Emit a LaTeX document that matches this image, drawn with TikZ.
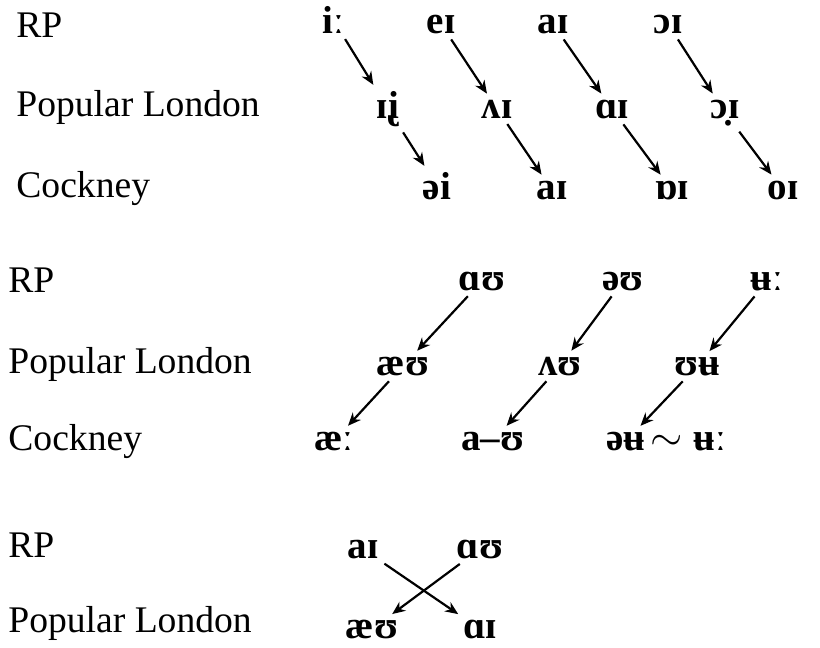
\documentclass[tikz,border=0pt]{standalone}
\usepackage{fontspec}
\setmainfont{Liberation Serif}
\usetikzlibrary{arrows.meta}

\begin{document}
\begin{tikzpicture}[
    x=0.5pt,
    y=-0.5pt,
    >={Stealth[length=6.5pt, width=5.5pt]},
    lbl/.style={anchor=base west, inner sep=0pt, font=\fontsize{18.8}{21}\selectfont},
    ipa/.style={anchor=base, inner sep=2pt, font=\fontsize{19.5}{21}\selectfont\bfseries},
    arr/.style={->, line width=1.1pt, shorten >=1pt, shorten <=1pt}
]
    \useasboundingbox (0,0) rectangle (820,648);
    % first block: i: ei ai oi
    \node[lbl] (rpA) at (16,37) {RP};
    \node[lbl] (plA) at (16,116) {Popular London};
    \node[lbl] (ckA) at (16,197) {Cockney};
    \node[ipa] (fleeceRP) at (333,33) {iː};
    \node[ipa] (faceRP) at (441,33) {eɪ};
    \node[ipa] (priceRP) at (553,33) {aɪ};
    \node[ipa] (choiceRP) at (668,33) {ɔɪ};
    \node[ipa] (fleecePL) at (388,118) {ɪ̢i};
    \node[ipa] (facePL) at (497,118) {ʌɪ};
    \node[ipa] (pricePL) at (612,118) {ɑɪ};
    \node[ipa] (choicePL) at (725,118) {ɔ̣ɪ};
    \node[ipa] (fleeceCK) at (437,199) {əi};
    \node[ipa] (faceCK) at (552,199) {aɪ};
    \node[ipa] (priceCK) at (672,199) {ɒɪ};
    \node[ipa] (choiceCK) at (783,199) {oɪ};
    \foreach \v in {fleece, face, price, choice} {
        \draw[arr] (\v RP) -- (\v PL);
        \draw[arr] (\v PL) -- (\v CK);
    }
    % second block: au ou u:
    \node[lbl] (rpB) at (8,292) {RP};
    \node[lbl] (plB) at (8,373) {Popular London};
    \node[lbl] (ckB) at (8,450) {Cockney};
    \node[ipa] (mouthRP) at (482,290) {ɑʊ};
    \node[ipa] (goatRP) at (623,290) {əʊ};
    \node[ipa] (gooseRP) at (767,290) {ʉː};
    \node[ipa] (mouthPL) at (403,375) {æʊ};
    \node[ipa] (goatPL) at (560,375) {ʌʊ};
    \node[ipa] (goosePL) at (697,375) {ʊʉ};
    \node[ipa] (mouthCK) at (334,450) {æː};
    \node[ipa] (goatCK) at (493,450) {a–ʊ};
    \node[ipa] (gooseCK) at (626,450) {əʉ};
    \node[ipa] (tilde) at (667,450) {$\sim$};
    \node[ipa] (gooseCKb) at (710,450) {ʉː};
    \foreach \v in {mouth, goat, goose} {
        \draw[arr] (\v RP) -- (\v PL);
        \draw[arr] (\v PL) -- (\v CK);
    }
    % third block: the crossing
    \node[lbl] (rpC) at (8,557) {RP};
    \node[lbl] (plC) at (8,632) {Popular London};
    \node[ipa] (aiRP) at (363,558) {aɪ};
    \node[ipa] (auRP) at (480,558) {ɑʊ};
    \node[ipa] (auPL) at (372,638) {æʊ};
    \node[ipa] (aiPL) at (480,638) {ɑɪ};
    \draw[arr] (aiRP) -- (aiPL);
    \draw[arr] (auRP) -- (auPL);
\end{tikzpicture}
\end{document}
